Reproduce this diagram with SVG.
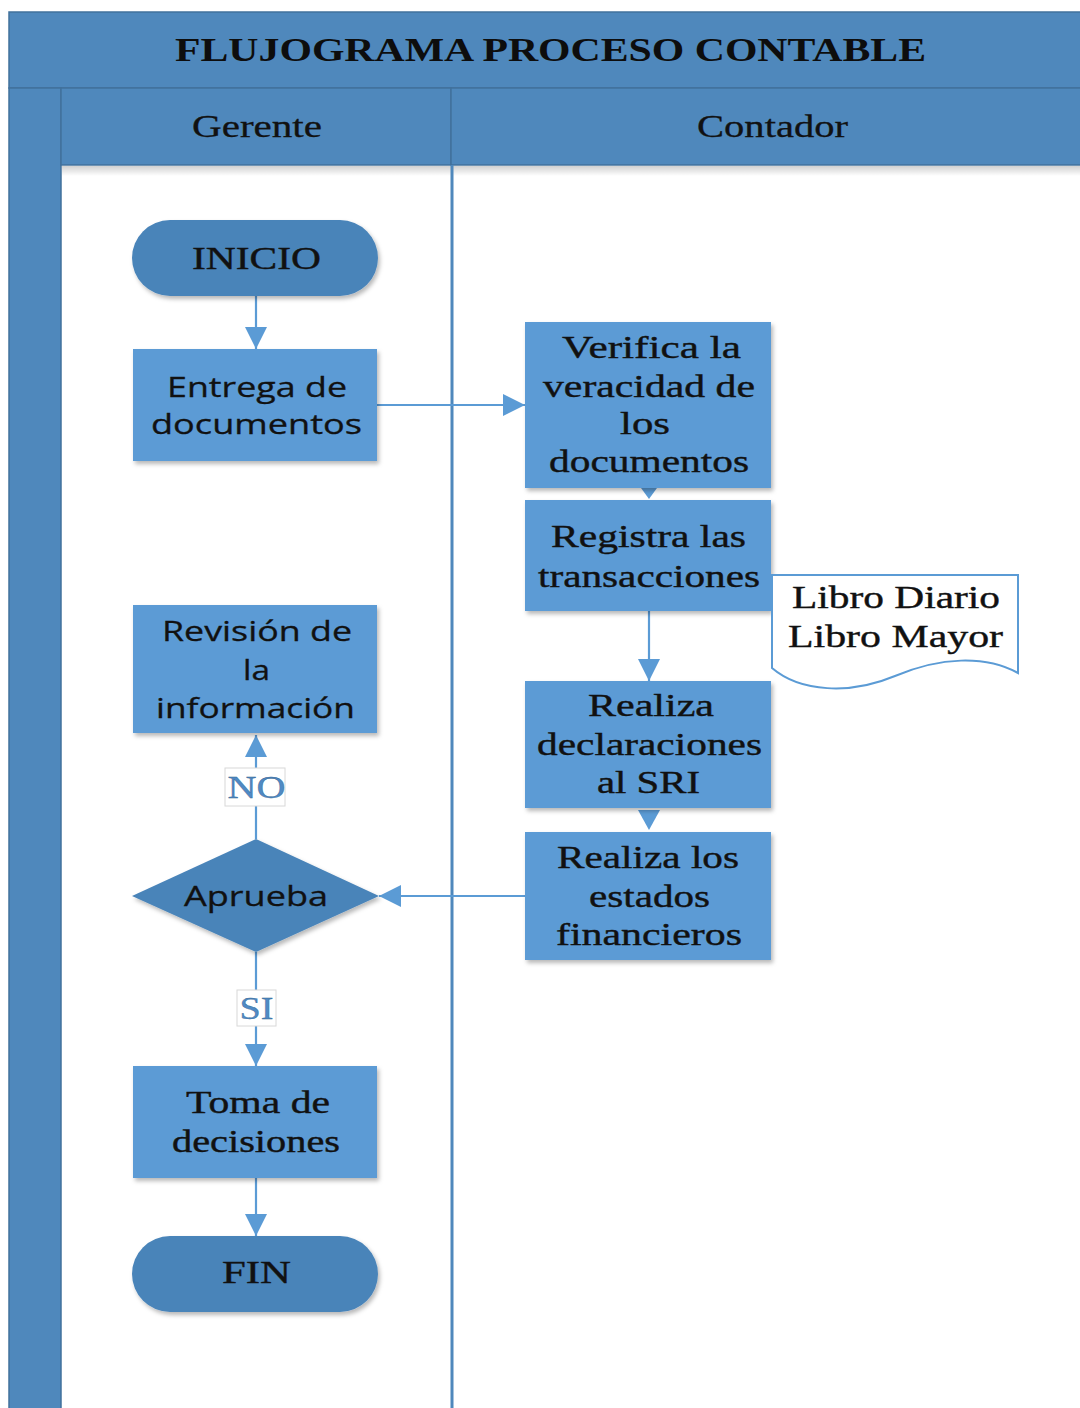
<svg xmlns="http://www.w3.org/2000/svg" width="1080" height="1408" viewBox="0 0 1080 1408">
  <defs>
    <style>
      .band { fill: #4f88bc; stroke: #41719c; stroke-width: 1.5; }
      .box { fill: #5b9bd5; filter: url(#shadow); }
      .term { fill: #4a84b9; filter: url(#shadow); }
      .doc { fill: #ffffff; stroke: #5b9bd5; stroke-width: 2; }
      text { lengthAdjust: spacingAndGlyphs; }
      .serif { font-family: "Liberation Serif", "Times New Roman", serif; font-size: 32px; fill: #111111; stroke: #111111; stroke-width: 0.4; text-anchor: middle; }
      .sans { font-family: "Open Sans", "Noto Sans", "Liberation Sans", sans-serif; font-size: 28px; fill: #111111; stroke: #111111; stroke-width: 0.3; text-anchor: middle; }
      .title { font-family: "Liberation Serif", "Times New Roman", serif; font-size: 34px; font-weight: bold; fill: #0d0d0d; text-anchor: middle; }
      .head { font-family: "Liberation Serif", "Times New Roman", serif; font-size: 31px; fill: #111111; stroke: #111111; stroke-width: 0.3; text-anchor: middle; }
      .lbl { font-family: "Liberation Serif", "Times New Roman", serif; font-size: 31px; fill: #4f8ac4; stroke: #2f5f8f; stroke-width: 0.3; text-anchor: middle; }
      .lblbox { fill: #ffffff; stroke: #d8d8d8; stroke-width: 1; }
      .wire { fill: none; stroke: #5b9bd5; stroke-width: 2.2; }
      .lane { stroke: #4f88bc; stroke-width: 3; }
    </style>
    <filter id="shadow" x="-10%" y="-10%" width="125%" height="130%">
      <feDropShadow dx="2" dy="3" stdDeviation="2" flood-color="#000000" flood-opacity="0.28"/>
    </filter>
    <linearGradient id="topShade" x1="0" y1="0" x2="0" y2="1">
      <stop offset="0" stop-color="#000000" stop-opacity="0.18"/>
      <stop offset="1" stop-color="#000000" stop-opacity="0"/>
    </linearGradient>
    <marker id="arrowBig" viewBox="0 0 10 10" refX="10" refY="5" markerWidth="22" markerHeight="22" markerUnits="userSpaceOnUse" orient="auto">
      <path d="M0,0 L10,5 L0,10 Z" fill="#5b9bd5"/>
    </marker>
  </defs>

  <rect x="0" y="0" width="1080" height="1408" fill="#ffffff"/>

  <!-- swimlane frame -->
  <g id="pool">
    <rect class="band" x="9" y="12" width="1080" height="76"/>
    <text class="title" x="550.5" y="61" textLength="751" lengthAdjust="spacingAndGlyphs">FLUJOGRAMA PROCESO CONTABLE</text>
    <rect class="band" x="9" y="88" width="52" height="1330"/>
    <rect class="band" x="61" y="88" width="390" height="77"/>
    <rect class="band" x="451" y="88" width="640" height="77"/>
    <text class="head" x="257" y="137" textLength="130" lengthAdjust="spacingAndGlyphs">Gerente</text>
    <text class="head" x="772.5" y="137" textLength="151" lengthAdjust="spacingAndGlyphs">Contador</text>
    <rect x="62" y="166" width="1018" height="10" fill="url(#topShade)"/>
    <line class="lane" x1="452" y1="165" x2="452" y2="1408"/>
  </g>

  <!-- connectors -->
  <g id="connectors">
    <line class="wire" x1="256" y1="296" x2="256" y2="349" marker-end="url(#arrowBig)"/>
    <line class="wire" x1="377" y1="405" x2="525" y2="405" marker-end="url(#arrowBig)"/>
    <path d="M641,488 L657,488 L649,499 Z" fill="#5b9bd5"/>
    <line class="wire" x1="649" y1="611" x2="649" y2="681" marker-end="url(#arrowBig)"/>
    <path d="M638,810 L660,810 L649,830 Z" fill="#5b9bd5"/>
    <line class="wire" x1="525" y1="896" x2="379" y2="896" marker-end="url(#arrowBig)"/>
    <line class="wire" x1="256" y1="839" x2="256" y2="735" marker-end="url(#arrowBig)"/>
    <line class="wire" x1="256" y1="952" x2="256" y2="1066" marker-end="url(#arrowBig)"/>
    <line class="wire" x1="256" y1="1178" x2="256" y2="1236" marker-end="url(#arrowBig)"/>
    <rect class="lblbox" x="225" y="768" width="60" height="38"/>
    <text class="lbl" x="256.5" y="798" textLength="58" lengthAdjust="spacingAndGlyphs">NO</text>
    <rect class="lblbox" x="237" y="990" width="39" height="36"/>
    <text class="lbl" x="256.5" y="1019" textLength="34" lengthAdjust="spacingAndGlyphs">SI</text>
  </g>

  <g id="inicio">
    <rect class="term" x="132" y="220" width="246" height="76" rx="38" ry="38"/>
    <text class="serif" x="256.5" y="269" font-size="33" textLength="129" lengthAdjust="spacingAndGlyphs">INICIO</text>
  </g>

  <g id="entrega">
    <rect class="box" x="133" y="349" width="244" height="112"/>
    <text class="sans" x="257" y="397" textLength="180" lengthAdjust="spacingAndGlyphs">Entrega de</text>
    <text class="sans" x="256.5" y="434" textLength="211" lengthAdjust="spacingAndGlyphs">documentos</text>
  </g>

  <g id="verifica">
    <rect class="box" x="525" y="322" width="246" height="166"/>
    <text class="serif" x="651.5" y="358" textLength="179" lengthAdjust="spacingAndGlyphs">Verifica la</text>
    <text class="serif" x="649" y="397" textLength="212" lengthAdjust="spacingAndGlyphs">veracidad de</text>
    <text class="serif" x="645" y="434" textLength="50" lengthAdjust="spacingAndGlyphs">los</text>
    <text class="serif" x="649" y="472" textLength="200" lengthAdjust="spacingAndGlyphs">documentos</text>
  </g>

  <g id="registra">
    <rect class="box" x="525" y="500" width="246" height="111"/>
    <text class="serif" x="648.5" y="547" textLength="195" lengthAdjust="spacingAndGlyphs">Registra las</text>
    <text class="serif" x="649" y="587" textLength="222" lengthAdjust="spacingAndGlyphs">transacciones</text>
  </g>

  <g id="libros">
    <path class="doc" d="M772,575 H1018 V673 C985,655 940,657 895,676 C850,695 800,692 772,668 Z"/>
    <text class="serif" x="896" y="608" textLength="208" lengthAdjust="spacingAndGlyphs">Libro Diario</text>
    <text class="serif" x="895.5" y="647" textLength="215" lengthAdjust="spacingAndGlyphs">Libro Mayor</text>
  </g>

  <g id="declaraciones">
    <rect class="box" x="525" y="681" width="246" height="127"/>
    <text class="serif" x="651" y="716" textLength="126" lengthAdjust="spacingAndGlyphs">Realiza</text>
    <text class="serif" x="649.5" y="755" textLength="225" lengthAdjust="spacingAndGlyphs">declaraciones</text>
    <text class="serif" x="648.5" y="793" textLength="103" lengthAdjust="spacingAndGlyphs">al SRI</text>
  </g>

  <g id="estados">
    <rect class="box" x="525" y="832" width="246" height="128"/>
    <text class="serif" x="648" y="868" textLength="182" lengthAdjust="spacingAndGlyphs">Realiza los</text>
    <text class="serif" x="649.5" y="907" textLength="121" lengthAdjust="spacingAndGlyphs">estados</text>
    <text class="serif" x="649" y="945" textLength="186" lengthAdjust="spacingAndGlyphs">financieros</text>
  </g>

  <g id="revision">
    <rect class="box" x="133" y="605" width="244" height="128"/>
    <text class="sans" x="257" y="641" textLength="190" lengthAdjust="spacingAndGlyphs">Revisión de</text>
    <text class="sans" x="256.5" y="680" textLength="27" lengthAdjust="spacingAndGlyphs">la</text>
    <text class="sans" x="255.5" y="718" textLength="199" lengthAdjust="spacingAndGlyphs">información</text>
  </g>

  <g id="aprueba">
    <path class="term" d="M256,839 L379,896 L256,952 L132,896 Z"/>
    <text class="sans" x="256" y="906" textLength="144" lengthAdjust="spacingAndGlyphs">Aprueba</text>
  </g>

  <g id="toma">
    <rect class="box" x="133" y="1066" width="244" height="112"/>
    <text class="serif" x="258" y="1113" textLength="144" lengthAdjust="spacingAndGlyphs">Toma de</text>
    <text class="serif" x="256" y="1152" textLength="168" lengthAdjust="spacingAndGlyphs">decisiones</text>
  </g>

  <g id="fin">
    <rect class="term" x="132" y="1236" width="246" height="76" rx="38" ry="38"/>
    <text class="serif" x="256.5" y="1283" font-size="33" textLength="69" lengthAdjust="spacingAndGlyphs">FIN</text>
  </g>
</svg>
